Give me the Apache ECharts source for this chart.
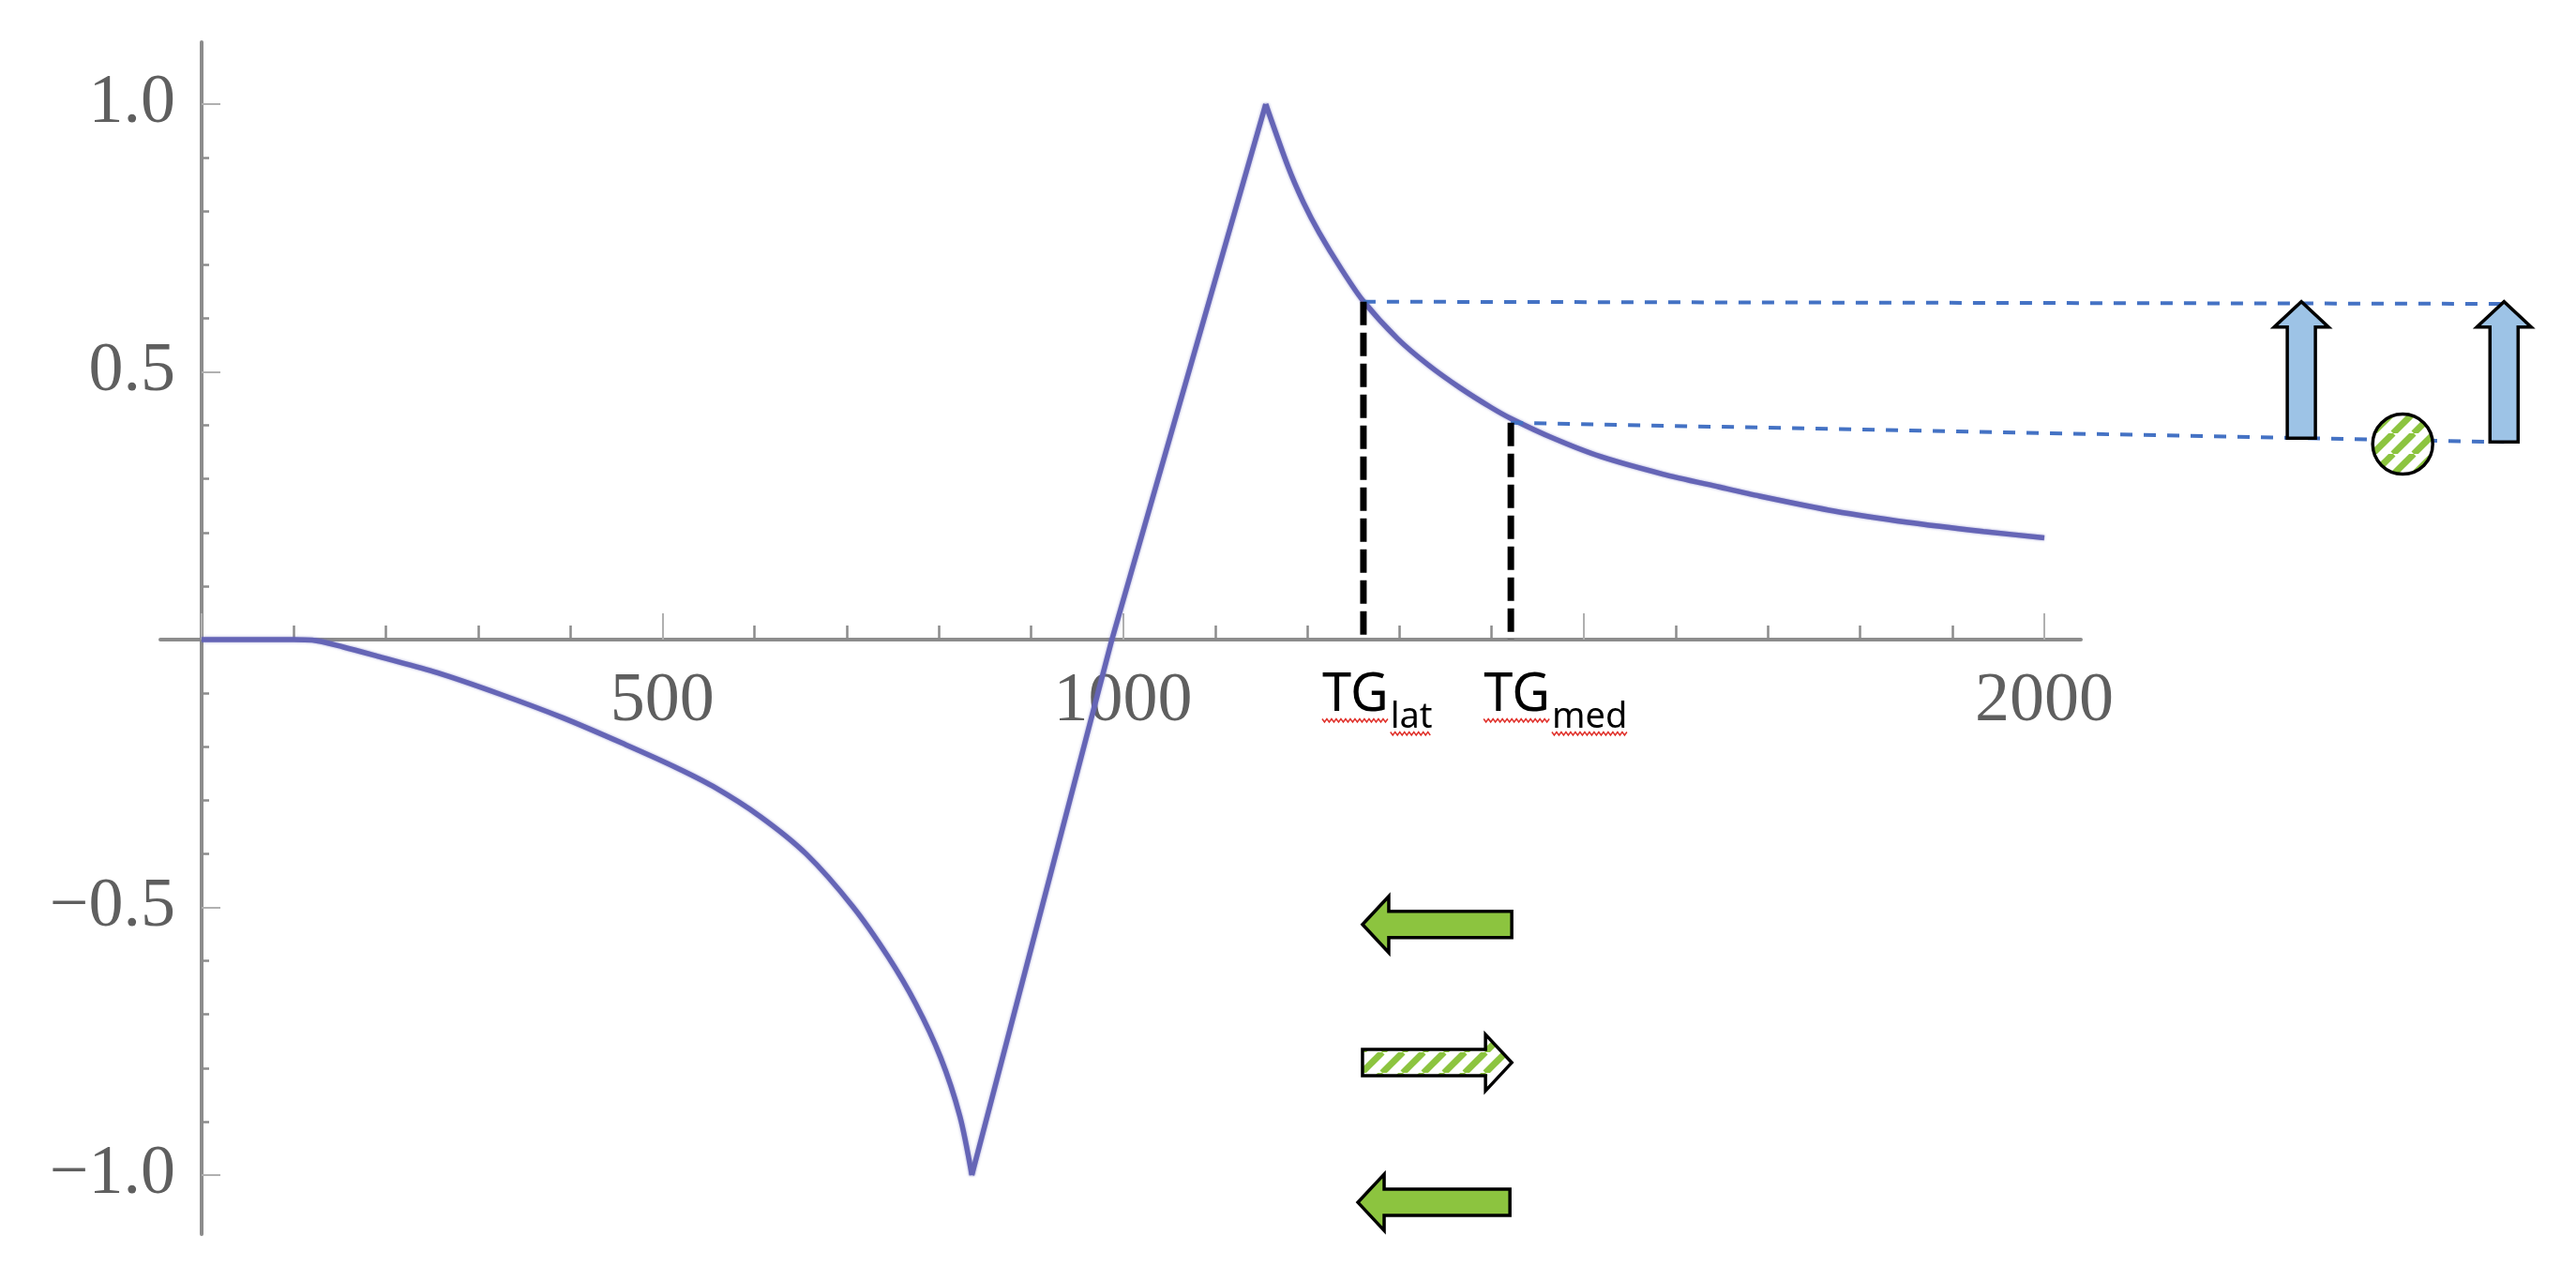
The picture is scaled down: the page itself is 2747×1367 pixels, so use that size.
<!DOCTYPE html>
<html>
<head>
<meta charset="utf-8">
<script src="https://cdn.jsdelivr.net/npm/echarts@6/dist/echarts.min.js"></script>
<style>
  html, body { margin: 0; padding: 0; background: #fff; }
  #chart { width: 2747px; height: 1367px; }
</style>
</head>
<body>
<div id="chart"></div>
<script>
// curve in three pieces so the cusps stay sharp
const leftBranch = [[0, 0], [100, 0], [120, -0.001], [154, -0.014], [195, -0.033], [256, -0.062],
  [324, -0.102], [392, -0.146], [460, -0.196], [514, -0.238], [555, -0.274], [606, -0.330],
  [656, -0.400], [707, -0.499], [745, -0.592], [775, -0.680], [802, -0.780], [823, -0.890], [836, -1.0]]
const riseBranch = [[836, -1.0], [988, 0], [1155, 1.0]]
const rightBranch = [[1155, 1.0], [1179, 0.884], [1196, 0.816], [1213, 0.760], [1237, 0.692],
  [1260, 0.634], [1298, 0.562], [1332, 0.512], [1366, 0.470], [1400, 0.433], [1422, 0.412],
  [1467, 0.376], [1518, 0.342], [1586, 0.309], [1647, 0.285], [1691, 0.268], [1772, 0.240],
  [1852, 0.219], [1934, 0.202], [2000, 0.190]]

// markers TG lat / TG med
const tgX = [1261, 1421]
const tgY = [0.631, 0.405]
const tgSub = ['lat', 'med']

// blue guides going right
const guideEndX = 2499
const guideEndY = [0.627, 0.369]

// up arrows + striped disc on the right
const upArrowX = [2279, 2499]
const upArrowBase = [0.376, 0.369]
const upArrowTip = [0.631, 0.631]
const disc = [2389, 0.365]

// horizontal arrows below the axis (tail -> tip)
const flowArrowY = [-0.532, -0.790, -1.051]
const flowArrowFrom = [1422, 1260, 1420]
const flowArrowTo = [1260, 1422, 1255]
const flowStriped = [0, 1, 0]

const xTickLabels = { 500: '500', 1000: '1000', 2000: '2000' }

const GREEN = '#8cc43f'
const AXIS = '#8c8c8c'
const LABEL = { fontFamily: 'Liberation Serif', fontSize: 74, color: '#5f5f5f' }

const chart = echarts.init(document.getElementById('chart'))

// green diagonal stripes on white
const stripeTile = (() => {
  const s = 22
  const c = document.createElement('canvas')
  c.width = s; c.height = s
  const g = c.getContext('2d')
  g.fillStyle = '#fff'
  g.fillRect(0, 0, s, s)
  g.strokeStyle = GREEN
  g.lineWidth = 7
  for (const k of [-s, 0, s]) {
    g.beginPath(); g.moveTo(k, s); g.lineTo(k + s, 0); g.stroke()
  }
  return c
})()
const stripes = { image: stripeTile, repeat: 'repeat' }

const measure = (() => {
  const g = document.createElement('canvas').getContext('2d')
  return (txt, font) => { g.font = font; return g.measureText(txt).width }
})()

const zigzag = (x0, x1, y) => {
  const pts = []
  let k = 0
  for (let x = x0; x <= x1; x += 2.5, k++) pts.push([x, y + (k % 2 ? 2 : -1.5)])
  return { type: 'polyline', shape: { points: pts }, style: { stroke: '#e0302a', lineWidth: 1.5, fill: null } }
}

const curveSeries = (data, smooth) => ({
  type: 'line', data, smooth, showSymbol: false, symbol: 'none', z: 3, silent: true,
  lineStyle: { color: '#6565b6', width: 5.5, shadowBlur: 3, shadowColor: 'rgba(100,100,185,0.6)' }
})

const option = {
  backgroundColor: '#fff',
  animation: false,
  grid: [
    // data area: x 0..2000, y -1..1
    { left: 215, right: 567, top: 111, bottom: 114, outerBoundsMode: 'none' },
    // axis lines reach a bit past the ticks
    { left: 171, right: 528, top: 45, bottom: 51, outerBoundsMode: 'none' },
    // upper half, its bottom edge is y = 0 : carries the x ticks and labels
    { left: 215, right: 567, top: 111, bottom: 685, outerBoundsMode: 'none' }
  ],
  xAxis: [
    { gridIndex: 0, type: 'value', min: 0, max: 2000, show: false },
    {
      gridIndex: 1, type: 'value', min: -45, max: 2040,
      axisLine: { show: true, onZero: true, lineStyle: { color: AXIS, width: 4 } },
      axisTick: { show: false }, axisLabel: { show: false }, splitLine: { show: false }
    },
    {
      gridIndex: 2, type: 'value', min: 0, max: 2000, interval: 500, position: 'bottom',
      axisLine: { show: false, onZero: false },
      axisTick: { show: true, inside: true, length: 28, lineStyle: { color: '#b0b0b0', width: 2 } },
      minorTick: { show: true, splitNumber: 5, length: 15, lineStyle: { color: AXIS, width: 2.5 } },
      splitLine: { show: false },
      axisLabel: { ...LABEL, margin: 30, formatter: (v) => xTickLabels[v] || '' }
    }
  ],
  yAxis: [
    {
      gridIndex: 0, type: 'value', min: -1, max: 1, interval: 0.5,
      axisLine: { show: false, onZero: false },
      axisTick: { show: true, inside: true, length: 20, lineStyle: { color: '#b0b0b0', width: 2 } },
      minorTick: { show: true, splitNumber: 5, length: 8, lineStyle: { color: AXIS, width: 2.5 } },
      splitLine: { show: false },
      axisLabel: {
        ...LABEL, margin: 28,
        formatter: (v) => v === 0 ? '' : (v < 0 ? '\u2212' : '') + Math.abs(v).toFixed(1)
      }
    },
    {
      gridIndex: 1, type: 'value', min: -1.11, max: 1.115,
      axisLine: { show: true, onZero: true, lineStyle: { color: AXIS, width: 4 } },
      axisTick: { show: false }, axisLabel: { show: false }, splitLine: { show: false }
    },
    { gridIndex: 2, type: 'value', min: 0, max: 1, show: false }
  ],
  series: [
    curveSeries(leftBranch, 0.3),
    curveSeries(riseBranch, false),
    curveSeries(rightBranch, 0.25),
    // black dashed drops to the axis
    ...tgX.map((x, i) => ({
      type: 'line', data: [[x, tgY[i]], [x, 0]], symbol: 'none', z: 4, silent: true,
      lineStyle: { color: '#000', width: 7, type: [25, 8] }
    })),
    // blue dashed guides, running past the plot area
    {
      type: 'custom', z: 4, silent: true,
      data: tgX.map((x, i) => [x, tgY[i], guideEndX, guideEndY[i]]),
      renderItem: (params, api) => {
        const a = api.coord([api.value(0), api.value(1)])
        const b = api.coord([api.value(2), api.value(3)])
        return {
          type: 'line', shape: { x1: a[0], y1: a[1], x2: b[0], y2: b[1] },
          style: { stroke: '#4472c4', lineWidth: 4, lineDash: [13, 12], fill: null }
        }
      }
    },
    // TG labels with subscripts
    {
      type: 'custom', z: 5, silent: true,
      data: tgX.map((x) => [x, 0]),
      renderItem: (params, api) => {
        const i = params.dataIndex
        const p = api.coord([api.value(0), api.value(1)])
        const shift = [-44, -29][i]
        const bigFont = '56px "Noto Sans"'
        const smallFont = '38px "Noto Sans"'
        const left = p[0] + shift
        const wBig = measure('TG', bigFont)
        const subLeft = left + wBig + 2
        const wSub = measure(tgSub[i], smallFont)
        return {
          type: 'group',
          children: [
            { type: 'text', style: { text: 'TG', x: left, y: p[1] + 60, font: bigFont, fill: '#000', align: 'left', verticalAlign: 'middle' } },
            { type: 'text', style: { text: tgSub[i], x: subLeft, y: p[1] + 83, font: smallFont, fill: '#000', align: 'left', verticalAlign: 'middle' } },
            zigzag(left, left + wBig, p[1] + 86),
            zigzag(subLeft, subLeft + wSub, p[1] + 100)
          ]
        }
      }
    },
    // vertical light-blue arrows
    {
      type: 'custom', z: 5, silent: true,
      data: upArrowX.map((x, i) => [x, upArrowBase[i], upArrowTip[i]]),
      renderItem: (params, api) => {
        const b = api.coord([api.value(0), api.value(1)])
        const t = api.coord([api.value(0), api.value(2)])
        const x = b[0], sw = 15, hw = 29, hl = 27
        return {
          type: 'polygon',
          shape: { points: [[x - sw, b[1]], [x - sw, t[1] + hl], [x - hw, t[1] + hl], [x, t[1]],
            [x + hw, t[1] + hl], [x + sw, t[1] + hl], [x + sw, b[1]]] },
          style: { fill: '#9dc3e6', stroke: '#000', lineWidth: 3.5, lineJoin: 'miter' }
        }
      }
    },
    // striped disc
    {
      type: 'custom', z: 5, silent: true,
      data: [disc],
      renderItem: (params, api) => {
        const c = api.coord([api.value(0), api.value(1)])
        return {
          type: 'circle', shape: { cx: c[0], cy: c[1], r: 32 },
          style: { fill: stripes, stroke: '#000', lineWidth: 3.5 }
        }
      }
    },
    // horizontal green arrows
    {
      type: 'custom', z: 5, silent: true,
      data: flowArrowY.map((y, i) => [flowArrowFrom[i], flowArrowTo[i], y, flowStriped[i]]),
      renderItem: (params, api) => {
        const a = api.coord([api.value(0), api.value(2)])
        const b = api.coord([api.value(1), api.value(2)])
        const dir = b[0] > a[0] ? 1 : -1
        const y = a[1], sh = 14, hh = 30, hl = 28
        const nx = b[0] - dir * hl
        return {
          type: 'polygon',
          shape: { points: [[a[0], y - sh], [nx, y - sh], [nx, y - hh], [b[0], y],
            [nx, y + hh], [nx, y + sh], [a[0], y + sh]] },
          style: { fill: api.value(3) ? stripes : GREEN, stroke: '#000', lineWidth: 3.5, lineJoin: 'miter' }
        }
      }
    }
  ]
}

chart.setOption(option)
window.addEventListener('resize', chart.resize)
</script>
</body>
</html>
